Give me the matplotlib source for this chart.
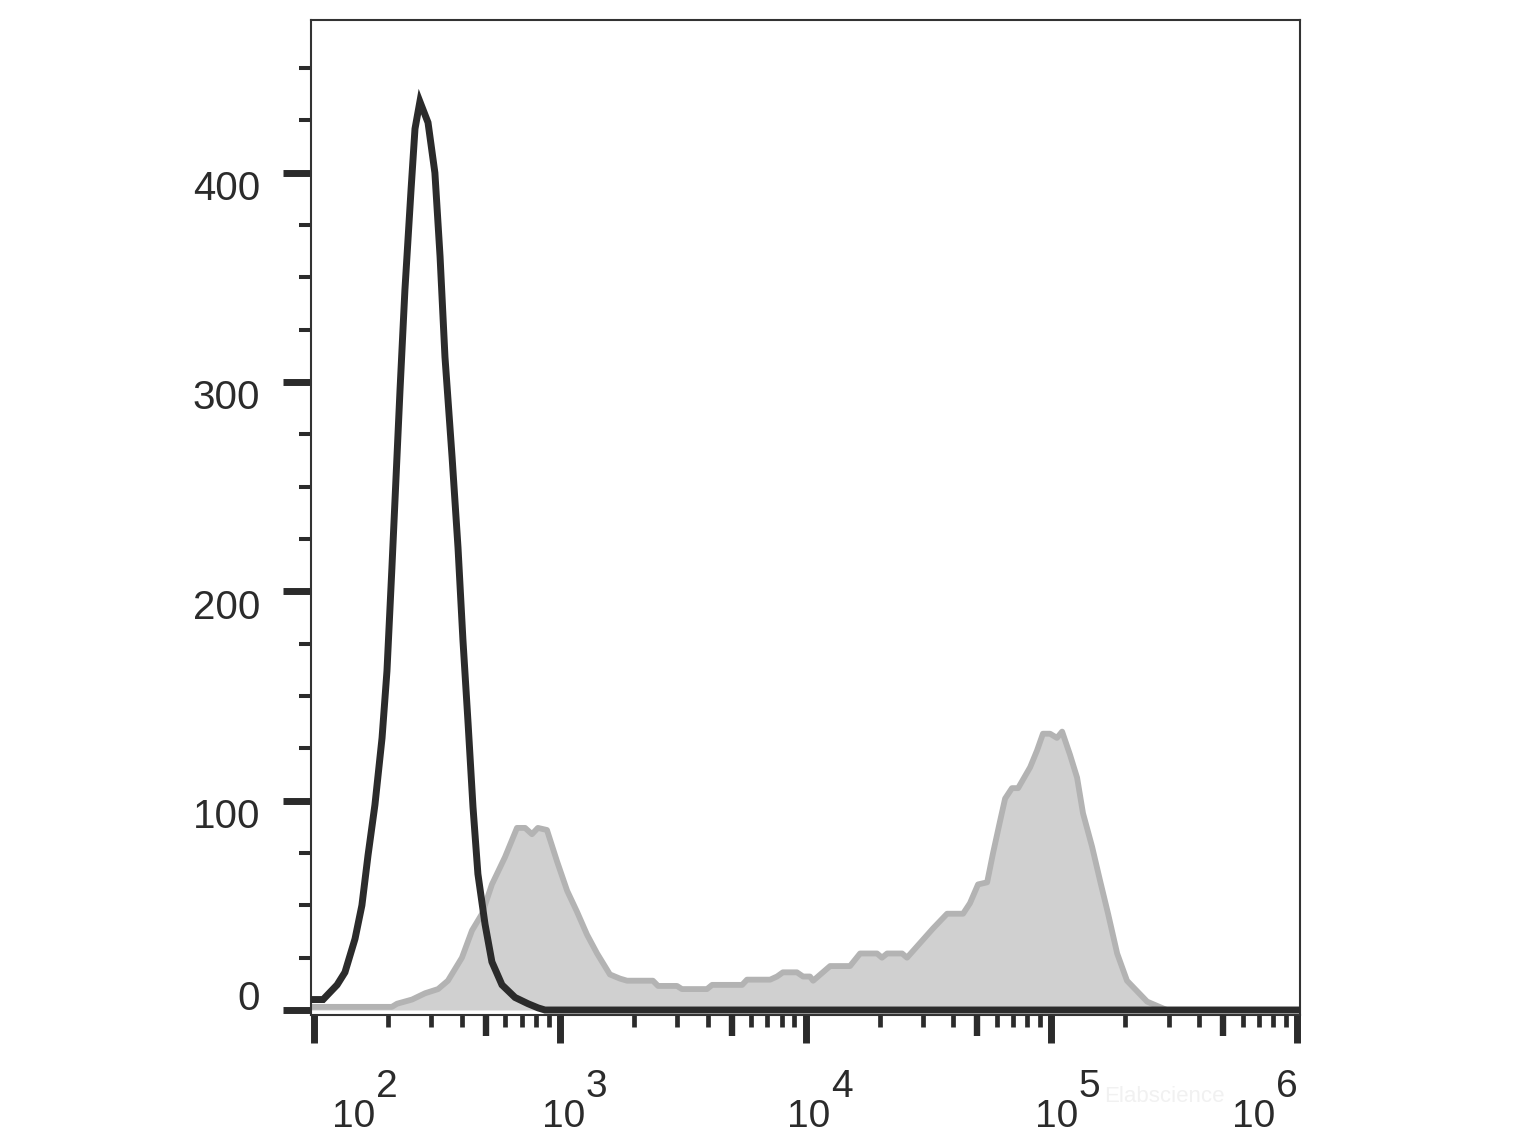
import numpy as np
import matplotlib
matplotlib.use("Agg")
import matplotlib.pyplot as plt
from matplotlib.ticker import NullLocator, NullFormatter

plt.rcParams['font.family'] = ['Liberation Sans', 'DejaVu Sans']

# black = unstained control, grey = stained sample (x given as log10 of intensity)
black_log = [1.988, 2.037, 2.094, 2.126, 2.167, 2.195, 2.220, 2.248, 2.277, 2.297,
             2.317, 2.350, 2.370, 2.395, 2.411, 2.431, 2.464, 2.492, 2.513, 2.533,
             2.562, 2.586, 2.606, 2.627, 2.647, 2.667, 2.696, 2.724, 2.765, 2.818,
             2.871, 2.912, 2.94, 6.012]
black_counts = [5, 5, 12, 18, 34, 50, 74, 98, 130, 162,
                211, 296, 344, 392, 421, 434, 424, 400, 360, 312,
                264, 221, 177, 137, 97, 65, 41, 23, 12, 6,
                3, 1, 0, 0]

grey_log = [1.988, 2.317, 2.338, 2.399, 2.452, 2.505, 2.545, 2.602, 2.643, 2.684,
            2.724, 2.777, 2.826, 2.859, 2.887, 2.911, 2.948, 2.989, 3.030, 3.070,
            3.111, 3.152, 3.204, 3.245, 3.274, 3.379, 3.400, 3.477, 3.497, 3.599,
            3.620, 3.742, 3.762, 3.856, 3.884, 3.908, 3.965, 3.990, 4.018, 4.031,
            4.100, 4.181, 4.222, 4.291, 4.311, 4.332, 4.393, 4.413, 4.466, 4.519,
            4.576, 4.641, 4.669, 4.702, 4.739, 4.763, 4.791, 4.812, 4.840, 4.865,
            4.914, 4.942, 4.966, 4.995, 5.023, 5.044, 5.076, 5.105, 5.129, 5.166,
            5.198, 5.231, 5.268, 5.308, 5.349, 5.390, 5.430, 5.47, 6.012]
grey_counts = [1.5, 1.5, 3, 5, 8, 10, 14, 25, 38, 46,
               60, 73, 87, 87, 84, 87, 86, 71, 57, 47,
               36, 27, 17, 15, 14, 14, 11.5, 11.5, 10, 10,
               12, 12, 14.5, 14.5, 16, 18, 18, 16, 16, 14,
               21, 21, 27, 27, 25, 27, 27, 25, 32, 39,
               46, 46, 51, 60, 61, 75, 90, 101, 106, 106,
               116, 124, 132, 132, 130, 133, 122, 111, 94, 78,
               62, 46, 27, 14, 9, 4, 2, 0, 0]

y_ticks = [0, 100, 200, 300, 400]
decades = [2, 3, 4, 5, 6]

ink = '#2b2b2b'

fig = plt.figure(figsize=(15.14, 11.35), dpi=100)
ax = fig.add_axes([0.2054, 0.1057, 0.6533, 0.8767])

gx = 10 ** np.array(grey_log)
bx = 10 ** np.array(black_log)
ax.fill_between(gx, grey_counts, 0, color='#d0d0d0', lw=0, zorder=1)
ax.plot(gx, grey_counts, color='#b3b3b3', lw=4.2, zorder=2, solid_joinstyle='round')
ax.plot(bx, black_counts, color=ink, lw=5.0, zorder=3, solid_joinstyle='miter')

ax.set_xscale('log')
ax.set_xlim(10 ** 1.9878, 10 ** 6.0122)
ax.set_ylim(-2.4, 473)

for s in ax.spines.values():
    s.set_color('#333333')
    s.set_linewidth(1.5)

# y axis, labels written by hand so each can sit where the original has it
ax.set_yticks(y_ticks)
ax.set_yticks([v for v in range(25, 475, 25) if v % 100 != 0], minor=True)
ax.yaxis.set_major_formatter(NullFormatter())
ax.tick_params(axis='y', which='major', length=20, width=5, color=ink)
ax.tick_params(axis='y', which='minor', length=8.6, width=2.9, color=ink)
for v in y_ticks:
    ax.annotate(str(v), xy=(0, v), xycoords=('axes fraction', 'data'),
                xytext=(-36.5, 2 if v else 0), textcoords='offset points',
                ha='right', va='baseline' if v == 0 else 'top',
                fontsize=29, color=ink)

# x axis: decades long, 2..9 short, 5x medium (twin axis)
ax.set_xticks([10.0 ** d for d in decades])
ax.set_xticks([m * 10.0 ** d for d in decades[:-1] for m in (2, 3, 4, 6, 7, 8, 9)], minor=True)
ax.xaxis.set_major_formatter(NullFormatter())
ax.xaxis.set_minor_formatter(NullFormatter())
ax.tick_params(axis='x', which='major', length=20, width=5, color=ink)
ax.tick_params(axis='x', which='minor', length=8.6, width=3.4, color=ink)

ax2 = ax.twiny()
ax2.set_xscale('log')
ax2.set_xlim(ax.get_xlim())
ax2.xaxis.set_ticks_position('bottom')
ax2.set_xticks([5 * 10.0 ** d for d in decades[:-1]])
ax2.xaxis.set_minor_locator(NullLocator())
ax2.xaxis.set_major_formatter(NullFormatter())
ax2.tick_params(axis='x', which='major', length=15, width=4.6, color=ink)
for s in ax2.spines.values():
    s.set_visible(False)

# decade labels: "10" with a big raised exponent
label_dx = {2: 13, 3: -13, 4: -13, 5: -12, 6: -47}
for d in decades:
    ax.annotate('10', xy=(10.0 ** d, 0), xycoords=('data', 'axes fraction'),
                xytext=(label_dx[d], -80.5), textcoords='offset points',
                ha='left', va='baseline', fontsize=28, color=ink)
    ax.annotate(str(d), xy=(10.0 ** d, 0), xycoords=('data', 'axes fraction'),
                xytext=(label_dx[d] + 31.5, -59), textcoords='offset points',
                ha='left', va='baseline', fontsize=28, color=ink)

fig.text(1104 / 1514, 1 - 1102 / 1135, 'Elabscience', fontsize=16, color='#f1f1f1',
         ha='left', va='baseline', zorder=0)

fig.savefig('out.png', dpi=100)
